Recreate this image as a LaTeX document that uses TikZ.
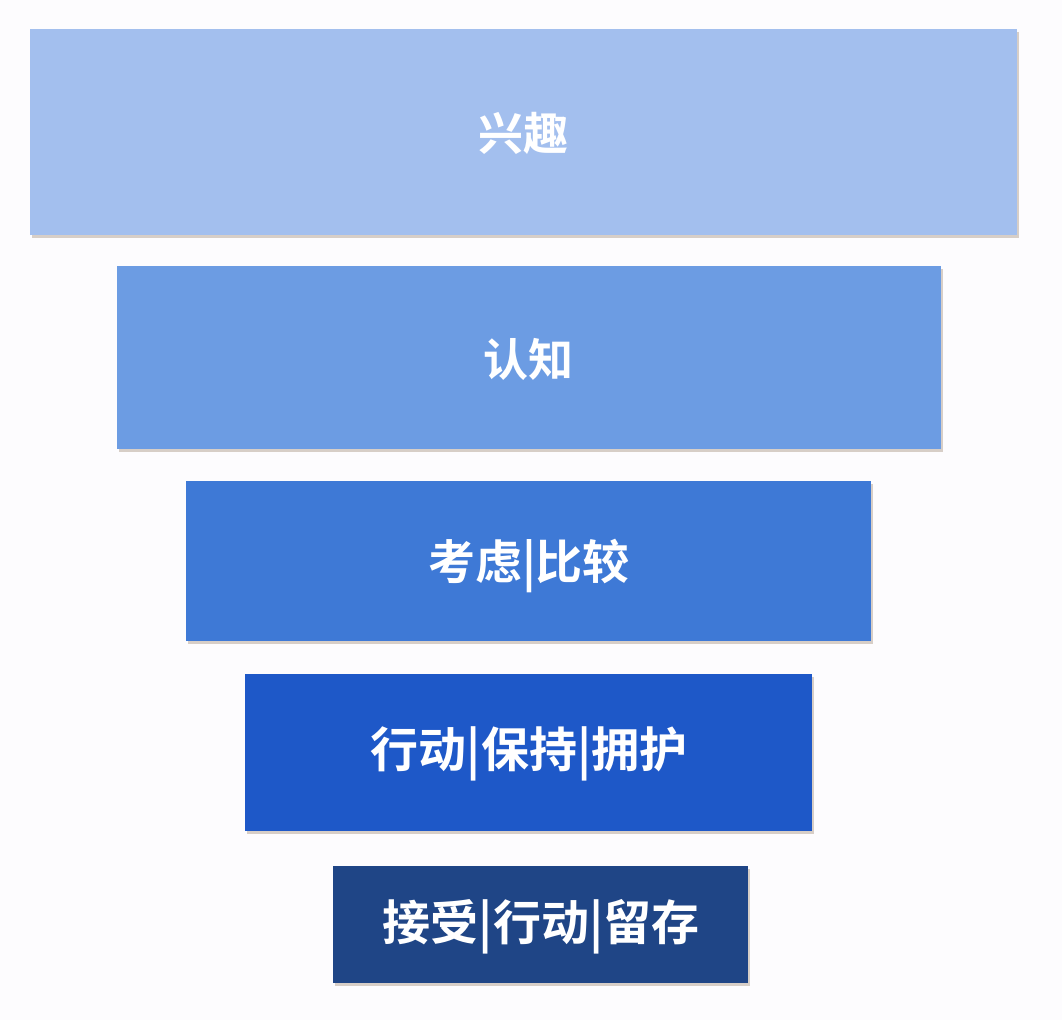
\documentclass[tikz,border=0pt]{standalone}
\usepackage{fontspec}
\newfontfamily\cjk{Noto Sans CJK SC}[BoldFont={* Bold}]
\usetikzlibrary{shadows}
\definecolor{bgc}{HTML}{FDFCFE}
\definecolor{c1}{HTML}{A3BFEE}
\definecolor{c2}{HTML}{6C9CE3}
\definecolor{c3}{HTML}{3E79D6}
\definecolor{c4}{HTML}{1E58C8}
\definecolor{c5}{HTML}{1F4586}
\tikzset{
  bar/.style={draw=none, drop shadow={shadow xshift=2pt, shadow yshift=-3pt, fill=black!45!brown, opacity=0.25}},
  lbla/.style={text=white, font=\cjk\bfseries\fontsize{45}{50}\selectfont, inner sep=0pt},
  lblm/.style={text=white, font=\cjk\bfseries\fontsize{47}{52}\selectfont, inner sep=0pt},
  lblb/.style={text=white, font=\cjk\bfseries\fontsize{48}{54}\selectfont, inner sep=0pt}
}
\begin{document}
\begin{tikzpicture}[x=1pt,y=-1pt]
\fill[bgc] (0,0) rectangle (1062,1020);
\useasboundingbox (0,0) rectangle (1062,1020);
\path[bar, fill=c1] (30,29) rectangle (1017,235);
\path[bar, fill=c2] (117,266) rectangle (941,449);
\path[bar, fill=c3] (186,481) rectangle (871,641);
\path[bar, fill=c4] (245,674) rectangle (812,831);
\path[bar, fill=c5] (333,866) rectangle (748,983);
\node[lbla] (t1) at (523,133) {兴趣};
\node[lbla] (t2) at (528,359) {认知};
\node[lblm] (t3) at (529,566) {考虑|比较};
\node[lblb] (t4) at (529,754) {行动|保持|拥护};
\node[lblb] (t5) at (541,927) {接受|行动|留存};
\end{tikzpicture}
\end{document}
